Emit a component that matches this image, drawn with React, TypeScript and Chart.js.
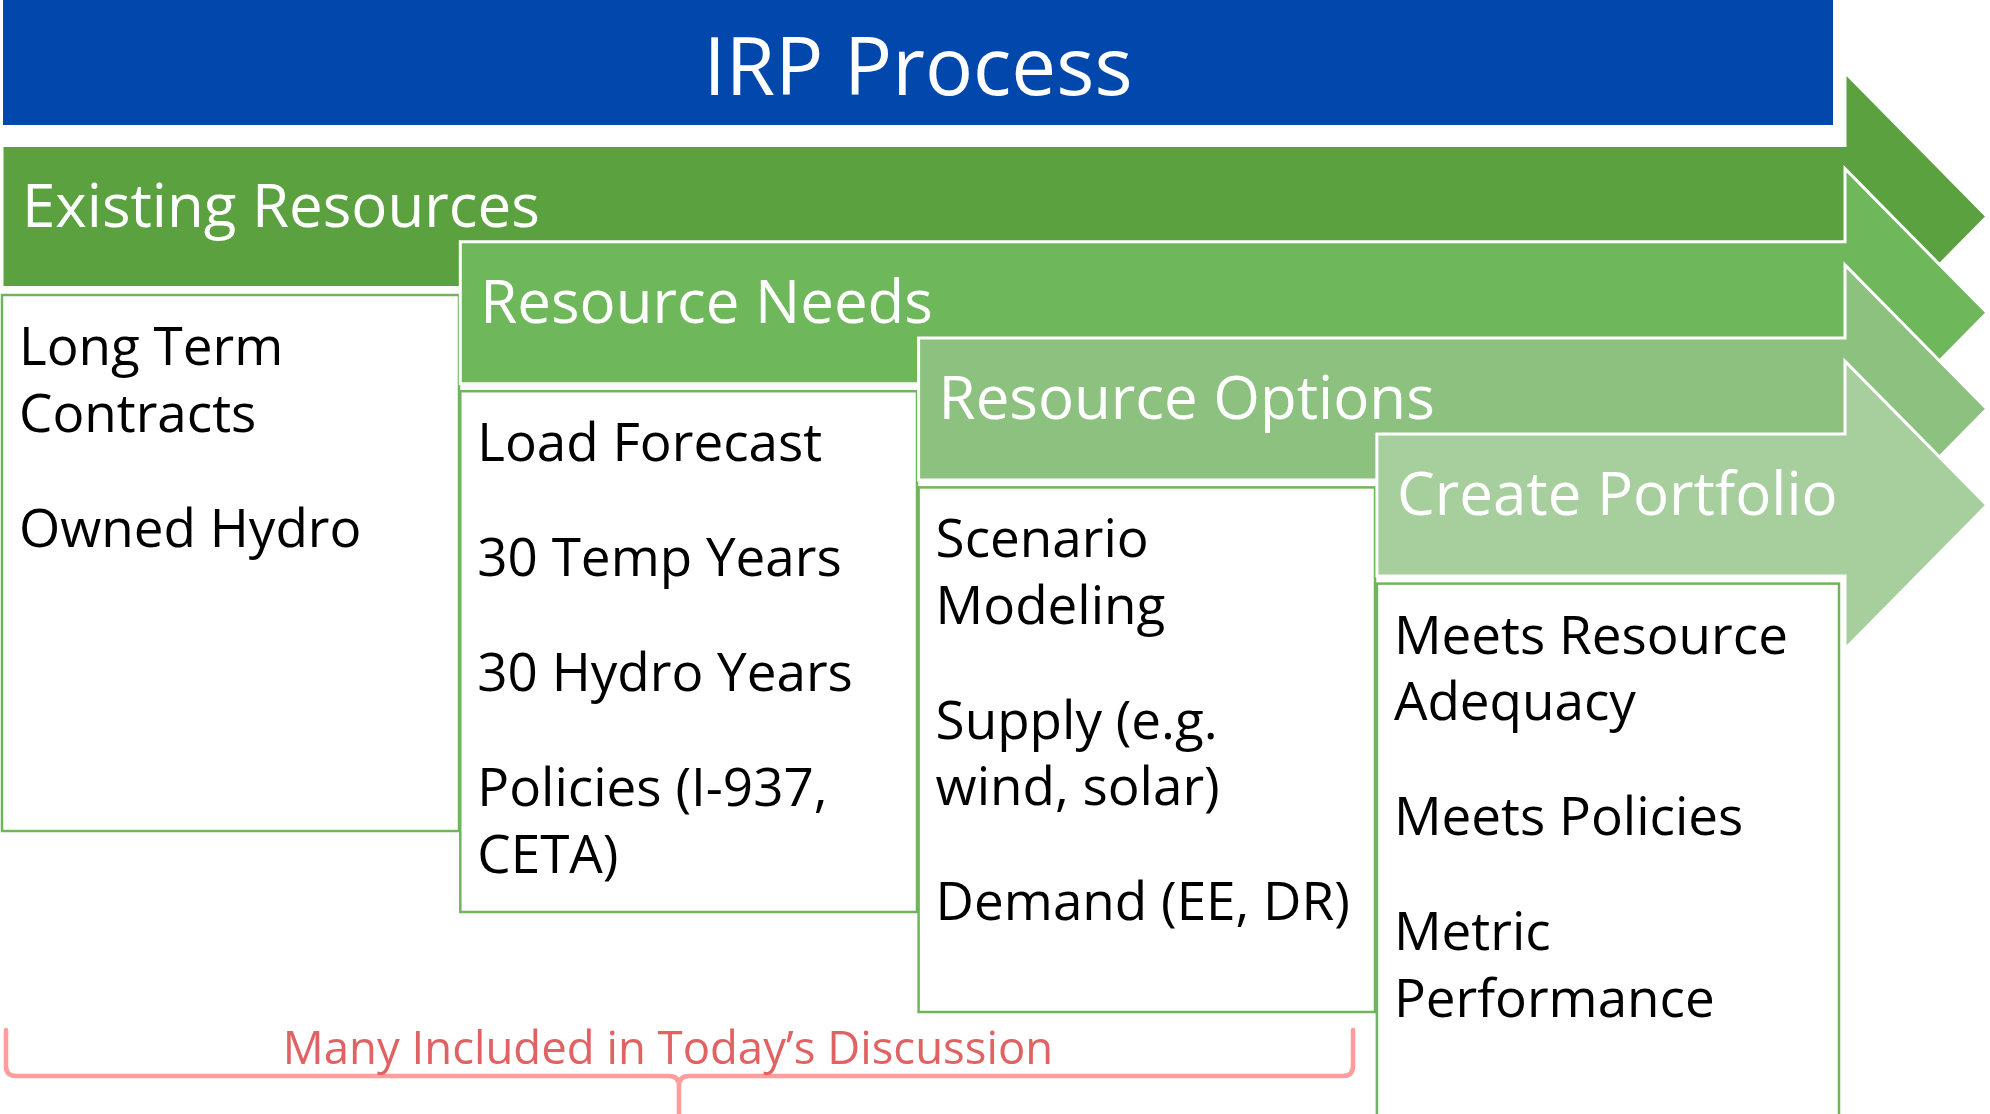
import React, { useEffect, useRef } from "react";
import { Chart, registerables } from "chart.js";

Chart.register(...registerables);

// ---- content ----
const TITLE = "IRP Process";
const STEP_TITLES = ["Existing Resources", "Resource Needs", "Resource Options", "Create Portfolio"];
const STEP_ITEMS: string[][] = [
  ["Long Term\nContracts", "Owned Hydro"],
  ["Load Forecast", "30 Temp Years", "30 Hydro Years", "Policies (I-937,\nCETA)"],
  ["Scenario\nModeling", "Supply (e.g.\nwind, solar)", "Demand (EE, DR)"],
  ["Meets Resource\nAdequacy", "Meets Policies", "Metric\nPerformance"],
];
const NOTE = "Many Included in Today\u2019s Discussion";

// ---- styles ----
const STEP_COLORS = ["#5BA13F", "#6FB75B", "#8DC17F", "#A7CE9D"];
const TITLE_COLOR = "#0248AC";
const BORDER_COLOR = "#6DB65A";
const NOTE_COLOR = "#E06262";
const BRACE_COLOR = "#FF9C9C";
const FONT = "'Open Sans', 'Noto Sans', sans-serif";

// ---- layout (in diagram units = page pixels) ----
const W = 1990;
const H = 1114;
const TITLE_BOX = { x0: 3, x1: 1833, y0: 0, y1: 125, baseline: 95, size: 80 };
const STEP_X0 = 2;
const STEP_DX = 458.3;
const ARROW_Y0 = 145.5;
const STEP_DY = 96.2;
const ARROW_H = 142;
const BODY_RIGHT = 1845;
const TIP_X = 1987;
const HEAD_HALF = 144;
const BOX_GAP = 7.5;
const BOX_RIGHTS = [459, 917, 1375, 1839];
const BOX_BOTTOMS = [831, 912, 1012, 1140];
const HEADER_SIZE = 60;
const HEADER_BASE = 81;
const HEADER_PAD = 20;
const ITEM_SIZE = 53;
const ITEM_PAD = 17;
const ITEM_FIRST = 70;
const LINE_H = 66.5;
const ITEM_GAP = 48.5;
const BRACE = { x0: 6, x1: 1353, xm: 679, yTop: 1030, yLine: 1076, r: 10, width: 4.5 };
const NOTE_POS = { x: 668, y: 1064, size: 45.5 };

const diagramPlugin = {
  id: "irpDiagram",
  afterDraw(chart: any) {
    const ctx: CanvasRenderingContext2D = chart.ctx;
    const xs = chart.scales.x;
    const ys = chart.scales.y;
    const px = (v: number) => xs.getPixelForValue(v);
    const py = (v: number) => ys.getPixelForValue(v);
    ctx.save();

    // Title bar
    ctx.fillStyle = TITLE_COLOR;
    ctx.fillRect(px(TITLE_BOX.x0), py(TITLE_BOX.y0), px(TITLE_BOX.x1) - px(TITLE_BOX.x0), py(TITLE_BOX.y1) - py(TITLE_BOX.y0));
    ctx.fillStyle = "#FFFFFF";
    ctx.font = `${TITLE_BOX.size}px ${FONT}`;
    ctx.textAlign = "center";
    ctx.textBaseline = "alphabetic";
    ctx.fillText(TITLE, px((TITLE_BOX.x0 + TITLE_BOX.x1) / 2), py(TITLE_BOX.baseline));

    STEP_TITLES.forEach((title, i) => {
      const left = STEP_X0 + STEP_DX * i;
      const top = ARROW_Y0 + STEP_DY * i;
      const bottom = top + ARROW_H;
      const mid = top + ARROW_H / 2;

      // Arrow
      ctx.beginPath();
      ctx.moveTo(px(left), py(top));
      ctx.lineTo(px(BODY_RIGHT), py(top));
      ctx.lineTo(px(BODY_RIGHT), py(mid - HEAD_HALF));
      ctx.lineTo(px(TIP_X), py(mid));
      ctx.lineTo(px(BODY_RIGHT), py(mid + HEAD_HALF));
      ctx.lineTo(px(BODY_RIGHT), py(bottom));
      ctx.lineTo(px(left), py(bottom));
      ctx.closePath();
      ctx.fillStyle = STEP_COLORS[i];
      ctx.fill();
      ctx.strokeStyle = "#FFFFFF";
      ctx.lineWidth = 3;
      ctx.lineJoin = "miter";
      ctx.stroke();

      ctx.fillStyle = "#FFFFFF";
      ctx.font = `${HEADER_SIZE}px ${FONT}`;
      ctx.textAlign = "left";
      ctx.fillText(title, px(left + HEADER_PAD), py(top + HEADER_BASE));

      // Box
      const bTop = bottom + BOX_GAP;
      const bRight = BOX_RIGHTS[i];
      const bBottom = BOX_BOTTOMS[i];
      ctx.fillStyle = "#FFFFFF";
      ctx.fillRect(px(left), py(bTop), px(bRight) - px(left), py(bBottom) - py(bTop));
      ctx.strokeStyle = BORDER_COLOR;
      ctx.lineWidth = 2.5;
      ctx.strokeRect(px(left), py(bTop), px(bRight) - px(left), py(bBottom) - py(bTop));

      // Items
      ctx.fillStyle = "#000000";
      ctx.font = `${ITEM_SIZE}px ${FONT}`;
      let y = bTop + ITEM_FIRST;
      STEP_ITEMS[i].forEach((item, k) => {
        if (k > 0) y += ITEM_GAP;
        item.split("\n").forEach((line, j) => {
          if (j > 0) y += LINE_H;
          ctx.fillText(line, px(left + ITEM_PAD), py(y));
        });
        y += LINE_H;
      });
    });

    // Brace
    const b = BRACE;
    ctx.strokeStyle = BRACE_COLOR;
    ctx.lineWidth = b.width;
    ctx.lineJoin = "round";
    ctx.lineCap = "round";
    ctx.beginPath();
    ctx.moveTo(px(b.x0), py(b.yTop));
    ctx.lineTo(px(b.x0), py(b.yLine - b.r));
    ctx.quadraticCurveTo(px(b.x0), py(b.yLine), px(b.x0 + b.r), py(b.yLine));
    ctx.lineTo(px(b.xm - b.r), py(b.yLine));
    ctx.quadraticCurveTo(px(b.xm), py(b.yLine), px(b.xm), py(b.yLine + b.r));
    ctx.lineTo(px(b.xm), py(H + 5));
    ctx.moveTo(px(b.xm), py(b.yLine + b.r));
    ctx.quadraticCurveTo(px(b.xm), py(b.yLine), px(b.xm + b.r), py(b.yLine));
    ctx.lineTo(px(b.x1 - b.r), py(b.yLine));
    ctx.quadraticCurveTo(px(b.x1), py(b.yLine), px(b.x1), py(b.yLine - b.r));
    ctx.lineTo(px(b.x1), py(b.yTop));
    ctx.stroke();

    ctx.fillStyle = NOTE_COLOR;
    ctx.font = `${NOTE_POS.size}px ${FONT}`;
    ctx.textAlign = "center";
    ctx.fillText(NOTE, px(NOTE_POS.x), py(NOTE_POS.y));

    ctx.restore();
  },
};

export default function App() {
  const canvasRef = useRef<HTMLCanvasElement | null>(null);

  useEffect(() => {
    document.body.style.margin = "0";
    document.body.style.background = "#FFFFFF";
    const canvas = canvasRef.current;
    if (!canvas) return;
    const chart = new Chart(canvas, {
      type: "scatter",
      data: { datasets: [{ data: [], pointRadius: 0 }] },
      options: {
        animation: false,
        responsive: true,
        maintainAspectRatio: false,
        layout: { padding: 0 },
        events: [],
        scales: {
          x: { type: "linear", min: 0, max: W, display: false },
          y: { type: "linear", min: 0, max: H, reverse: true, display: false },
        },
        plugins: { legend: { display: false }, tooltip: { enabled: false }, title: { display: false } },
      },
      plugins: [diagramPlugin],
    });
    return () => chart.destroy();
  }, []);

  return (
    <div style={{ position: "fixed", left: 0, top: 0, width: W, height: H, background: "#FFFFFF" }}>
      <canvas ref={canvasRef} />
    </div>
  );
}
